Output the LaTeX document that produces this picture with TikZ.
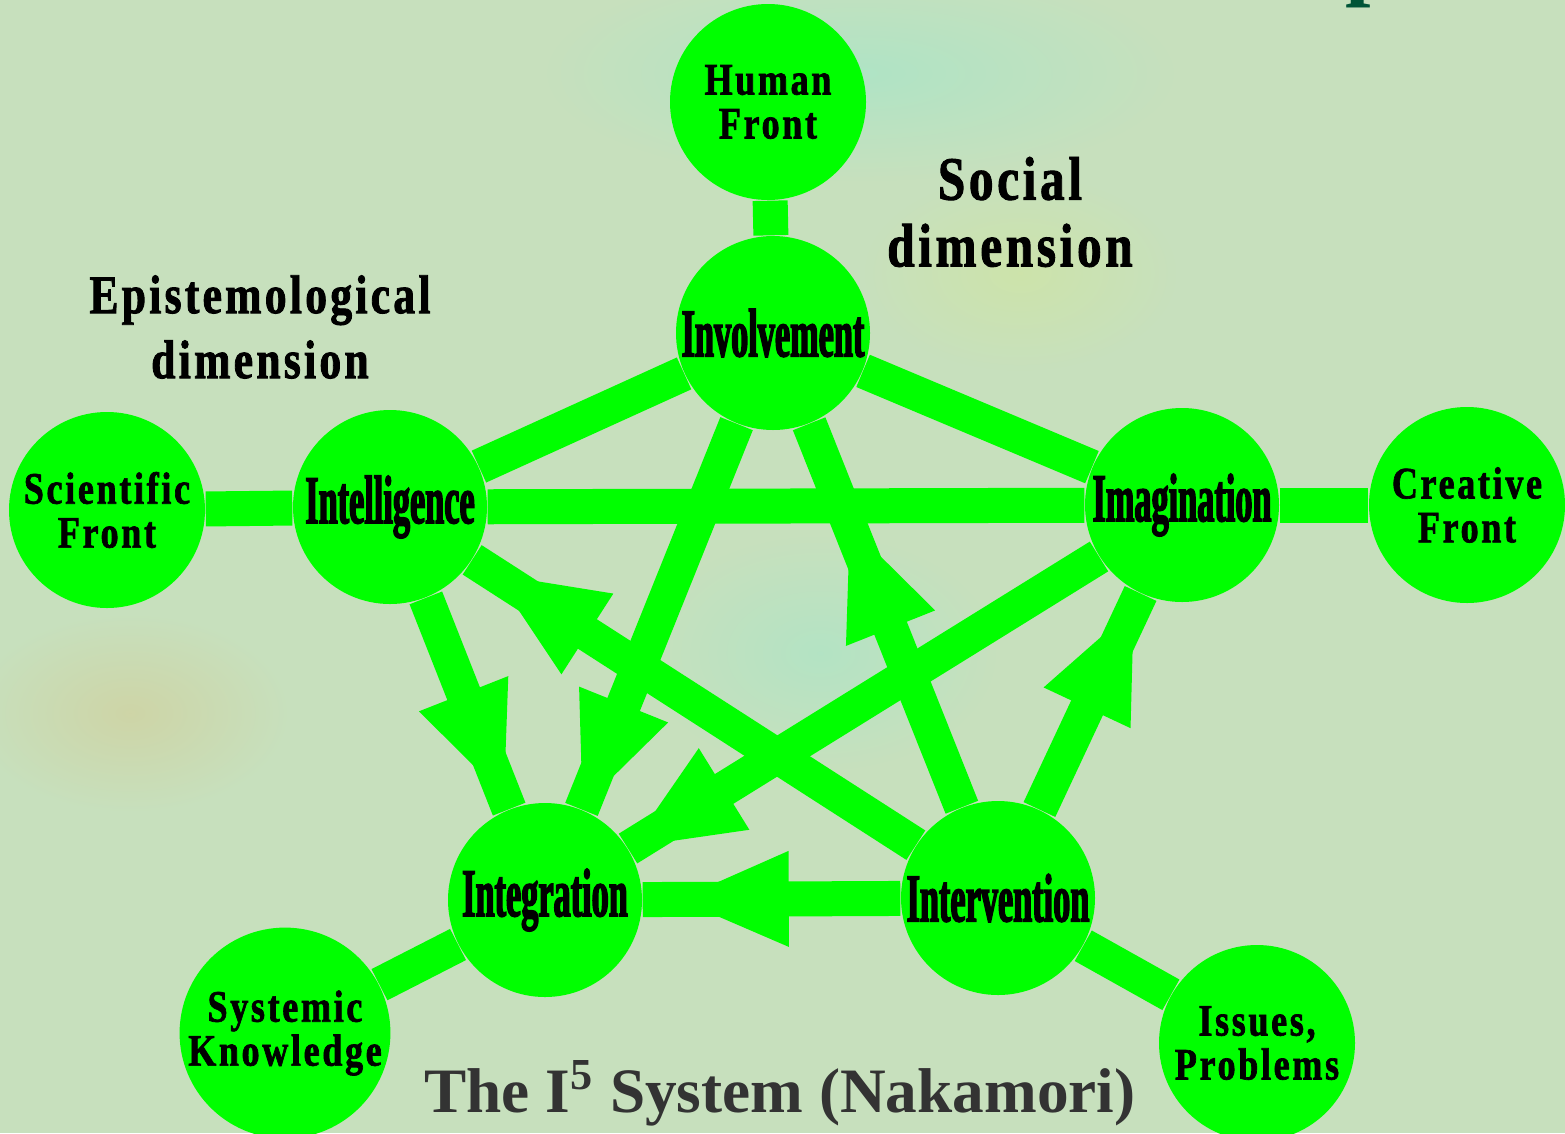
\documentclass[tikz,border=0pt]{standalone}
\usepackage{fontspec}
\setmainfont{Liberation Serif}
\newfontfamily\condfont{Liberation Serif}[FakeStretch=0.5,FakeBold=2]
\newfontfamily\spacefont{Liberation Serif}[FakeStretch=0.8,LetterSpace=6,FakeBold=1.5]
\usetikzlibrary{arrows.meta, decorations.markings, backgrounds, positioning}
\definecolor{paper}{RGB}{199,224,189}
\definecolor{lime}{RGB}{0,255,0}
\definecolor{titlegray}{RGB}{51,51,51}
\definecolor{deepteal}{RGB}{0,85,55}

\begin{document}
\begin{tikzpicture}[
    hub/.style={circle, fill=lime, minimum size=1.94cm, inner sep=0pt, align=center, font=\condfont\bfseries\fontsize{19.5}{20}\selectfont},
    front/.style={circle, fill=lime, minimum size=1.96cm, inner sep=0pt, align=center, font=\spacefont\bfseries\fontsize{12.8}{12.5}\selectfont},
    dimlabel/.style={align=center, font=\spacefont\bfseries\fontsize{15.5}{18.5}\selectfont},
    link/.style={draw=lime, line width=3.5mm},
    flow/.style={link, postaction={decorate}, decoration={markings, mark=at position #1 with {\arrow{Triangle[length=11mm, width=9.6mm, line width=0pt]}}}}
]
    \useasboundingbox (0,0) rectangle (15.65,11.33);

    % The five I's
    \node[hub] (involve) at (7.73,8.00) {Involvement};
    \node[hub] (intel) at (3.90,6.26) {Intelligence};
    \node[hub] (imag) at (11.82,6.28) {Imagination};
    \node[hub] (integ) at (5.45,2.33) {Integration};
    \node[hub] (interv) at (9.98,2.35) {Intervention};

    % Fronts around them
    \node[front] (human) at (7.68,10.31) {Human\\Front};
    \node[front] (sci) at (1.07,6.23) {Scientific\\Front};
    \node[front] (creative) at (14.67,6.28) {Creative\\Front};
    \node[front] (systemic) at (2.85,1.00) {Systemic\\Knowledge};
    \node[front] (issues) at (12.57,0.90) {Issues,\\Problems};

    % Dimensions and caption
    \node[dimlabel, font=\spacefont\bfseries\fontsize{17.5}{19}\selectfont] (social) at (10.10,9.21) {Social\\dimension};
    \node[dimlabel] (episto) at (2.60,8.06) {Epistemological\\dimension};
    \node[anchor=base, text=titlegray, font=\bfseries\fontsize{18}{20}\selectfont] (title) at (7.80,0.21) {The I\textsuperscript{5} System (Nakamori)};
    \node[anchor=base west, inner sep=0pt, text=deepteal, font=\bfseries\fontsize{26}{26}\selectfont] (cutp) at (13.45,11.45) {p};

    \begin{scope}[on background layer]
        \fill[paper] (0,0) rectangle (15.65,11.33);
        \shade[inner color=cyan!12!paper, outer color=paper] (8.6,10.6) ellipse (3.2 and 1.1);
        \shade[inner color=cyan!10!paper, outer color=paper] (8.2,4.8) ellipse (1.8 and 1.2);
        \shade[inner color=orange!12!paper, outer color=paper] (1.3,4.2) ellipse (1.6 and 1.0);
        \shade[inner color=yellow!10!paper, outer color=paper] (10.2,8.6) ellipse (1.6 and 1.0);

        % plain links
        \draw[link] (human) -- (involve);
        \draw[link] (sci) -- (intel);
        \draw[link] (imag) -- (creative);
        \draw[link] (integ) -- (systemic);
        \draw[link] (interv) -- (issues);
        \draw[link] (involve) -- (intel);
        \draw[link] (involve) -- (imag);
        \draw[link] (intel) -- (imag);

        % directed links
        \draw[flow=-1.4mm] (intel) -- (integ);
        \draw[flow=-0.3mm] (involve) -- (integ);
        \draw[flow=-0.3mm] (imag) -- (integ);
        \draw[flow=-3.6mm] (interv) -- (integ);
        \draw[flow=-2.7mm] (interv) -- (intel);
        \draw[flow=-11mm] (interv) -- (involve);
        \draw[flow=-1.6mm] (interv) -- (imag);
    \end{scope}
\end{tikzpicture}
\end{document}
